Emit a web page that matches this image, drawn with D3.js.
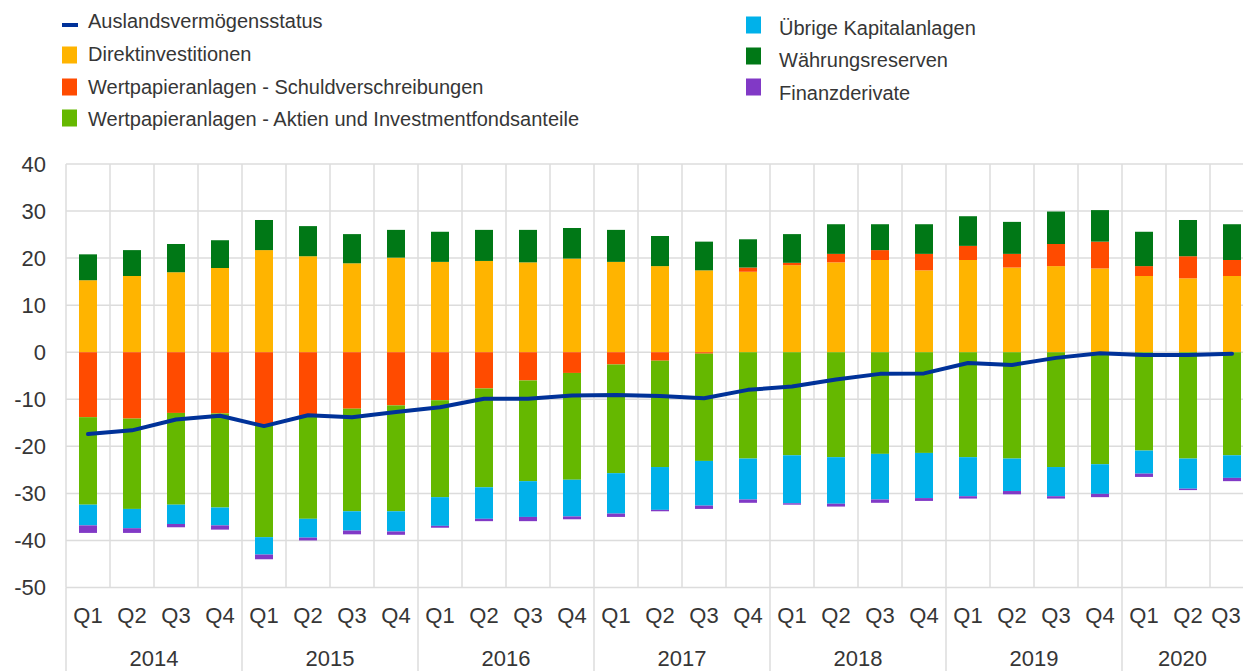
<!DOCTYPE html>
<html><head><meta charset="utf-8">
<script src="https://cdn.jsdelivr.net/npm/d3@7"></script>
<style>
html,body{margin:0;padding:0;background:#fff;overflow:hidden}
svg{display:block;font-family:"Liberation Sans",Arial,sans-serif}
</style></head>
<body>
<svg id="chart" width="1243" height="671"></svg>
<script>
const quarters = ["Q1","Q2","Q3","Q4","Q1","Q2","Q3","Q4","Q1","Q2","Q3","Q4","Q1","Q2","Q3","Q4","Q1","Q2","Q3","Q4","Q1","Q2","Q3","Q4","Q1","Q2","Q3"];
const years = ["2014","2014","2014","2014","2015","2015","2015","2015","2016","2016","2016","2016","2017","2017","2017","2017","2018","2018","2018","2018","2019","2019","2019","2019","2020","2020","2020"];
const yearLabels = ["2014","2015","2016","2017","2018","2019","2020"];
const yTicks = [40,30,20,10,0,-10,-20,-30,-40,-50];

const direktinvestitionen = [15.3,16.2,17.0,17.9, 21.7,20.4,18.9,20.1, 19.2,19.4,19.1,19.9, 19.2,18.3,17.4,17.1, 18.5,19.1,19.6,17.4, 19.6,18.0,18.3,17.8, 16.2,15.7,16.2];
const schuldverschreibungen = [-13.8,-14.1,-12.9,-13.0, -15.5,-13.4,-12.0,-11.3, -10.2,-7.7,-6.0,-4.4, -2.6,-1.8,-0.3,0.9, 0.5,1.8,2.1,3.5, 3.0,2.9,4.7,5.7, 2.1,4.7,3.4];
const aktienFonds = [-18.6,-19.2,-19.5,-20.0, -23.8,-22.0,-21.8,-22.5, -20.6,-21.0,-21.4,-22.7, -23.1,-22.6,-22.8,-22.6, -21.9,-22.3,-21.6,-21.4, -22.3,-22.6,-24.4,-23.8, -20.9,-22.6,-21.9];
const uebrigeKapitalanlagen = [-4.4,-4.1,-4.1,-3.8, -3.7,-4.0,-4.1,-4.3, -6.1,-6.7,-7.6,-7.8, -8.6,-9.1,-9.5,-8.7, -10.2,-9.9,-9.7,-9.6, -8.3,-6.9,-6.2,-6.3, -4.9,-6.4,-4.8];
const waehrungsreserven = [5.5,5.5,6.0,5.9, 6.4,6.4,6.2,5.9, 6.4,6.6,6.9,6.5, 6.8,6.4,6.1,6.0, 6.1,6.3,5.5,6.3, 6.3,6.8,6.9,6.7, 7.3,7.7,7.6];
const finanzderivate = [-1.6,-1.0,-0.7,-0.9, -1.0,-0.6,-0.8,-0.7, -0.4,-0.5,-0.9,-0.6, -0.7,-0.3,-0.7,-0.7, -0.3,-0.6,-0.7,-0.6, -0.5,-0.7,-0.5,-0.7, -0.7,-0.3,-0.7];
const auslandsvermoegensstatus = [-17.4,-16.6,-14.3,-13.5, -15.7,-13.4,-13.8,-12.7, -11.7,-9.9,-9.9,-9.2, -9.1,-9.3,-9.8,-8.0, -7.3,-5.8,-4.6,-4.5, -2.3,-2.7,-1.2,-0.2, -0.6,-0.6,-0.3];

const seriesKeys = ["di","debt","equity","other","reserves","deriv"];
const seriesNames = {
  di:"Direktinvestitionen", debt:"Wertpapieranlagen - Schuldverschreibungen",
  equity:"Wertpapieranlagen - Aktien und Investmentfondsanteile",
  other:"Übrige Kapitalanlagen", reserves:"Währungsreserven", deriv:"Finanzderivate"
};
const colors = {di:"#FFB400",debt:"#FF4B00",equity:"#65B800",other:"#00B1EA",reserves:"#007816",deriv:"#8139C6",line:"#003299"};

const cats = quarters.map((q,i)=>years[i]+"-"+q);
const rows = cats.map((c,i)=>({cat:c, di:direktinvestitionen[i], debt:schuldverschreibungen[i], equity:aktienFonds[i], other:uebrigeKapitalanlagen[i], reserves:waehrungsreserven[i], deriv:finanzderivate[i], net:auslandsvermoegensstatus[i]}));

const W = 1243;
const svg = d3.select("#chart");
const plotLeft = 66, bandW = 44.0;
const plotRight = plotLeft + bandW*cats.length;
const plotTop = 164, plotBottom = 587.5;

const x = d3.scaleBand().domain(cats).range([plotLeft,plotRight]).padding(0);
const y = d3.scaleLinear().domain([-50,40]).range([plotBottom,plotTop]);
const barW = 18;
const grid = "#dcdcdc";
const textCol = "#363636";

svg.append("g").selectAll("line").data(yTicks).join("line")
  .attr("x1",plotLeft).attr("x2",plotRight).attr("y1",d=>y(d)).attr("y2",d=>y(d))
  .attr("stroke",grid).attr("stroke-width",1.5);
svg.append("g").selectAll("line").data(cats).join("line")
  .attr("x1",d=>x(d)).attr("x2",d=>x(d)).attr("y1",plotTop).attr("y2",plotBottom)
  .attr("stroke",grid).attr("stroke-width",1.5);
const yearStarts = cats.filter((c,i)=>quarters[i]==="Q1");
svg.append("g").selectAll("line").data(yearStarts).join("line")
  .attr("x1",d=>x(d)).attr("x2",d=>x(d)).attr("y1",plotBottom).attr("y2",671)
  .attr("stroke",grid).attr("stroke-width",1.5);

svg.append("g").selectAll("text").data(yTicks).join("text")
  .attr("x",46).attr("y",d=>y(d)).attr("text-anchor","end").attr("dominant-baseline","central")
  .attr("font-size",22).attr("fill",textCol).text(d=>d);

const stack = d3.stack().keys(seriesKeys).offset(d3.stackOffsetDiverging);
const stacked = stack(rows);
svg.append("g").selectAll("g").data(stacked).join("g")
  .attr("fill",d=>colors[d.key])
  .selectAll("rect").data(d=>d).join("rect")
  .attr("x",d=>x(d.data.cat)+(bandW-barW)/2)
  .attr("width",barW)
  .attr("y",d=>y(Math.max(d[0],d[1])))
  .attr("height",d=>Math.abs(y(d[0])-y(d[1])));

const line = d3.line().x(d=>x(d.cat)+bandW/2).y(d=>y(d.net));
svg.append("path").datum(rows).attr("d",line).attr("fill","none")
  .attr("stroke",colors.line).attr("stroke-width",4).attr("stroke-linejoin","round").attr("stroke-linecap","round");

// quarter labels (last one kept inside the visible frame)
svg.append("g").selectAll("text").data(cats).join("text")
  .attr("x",d=>Math.min(x(d)+bandW/2, W-17)).attr("y",615).attr("text-anchor","middle").attr("dominant-baseline","central")
  .attr("font-size",22).attr("fill",textCol).text((d,i)=>quarters[i]);
svg.append("g").selectAll("text").data(yearLabels).join("text")
  .attr("x",yl=>{const idx=cats.filter((c,i)=>years[i]===yl); return (x(idx[0])+Math.min(x(idx[idx.length-1])+bandW, W))/2;})
  .attr("y",658).attr("text-anchor","middle").attr("dominant-baseline","central")
  .attr("font-size",22).attr("fill",textCol).text(d=>d);

const legLeft = [
  {type:"line", key:"line", name:"Auslandsvermögensstatus", y:21, my:25},
  {type:"rect", key:"di", name:seriesNames.di, y:54, my:55},
  {type:"rect", key:"debt", name:seriesNames.debt, y:87, my:87},
  {type:"rect", key:"equity", name:seriesNames.equity, y:119, my:118}
];
const legRight = [
  {type:"rect", key:"other", name:seriesNames.other, y:28, my:25},
  {type:"rect", key:"reserves", name:seriesNames.reserves, y:60, my:56},
  {type:"rect", key:"deriv", name:seriesNames.deriv, y:93, my:87}
];
function drawLegend(items, mx, tx){
  const g = svg.append("g");
  items.forEach(it=>{
    if(it.type==="line"){
      g.append("line").attr("x1",mx).attr("x2",mx+16).attr("y1",it.my).attr("y2",it.my)
        .attr("stroke",colors.line).attr("stroke-width",4);
    } else {
      g.append("rect").attr("x",mx).attr("y",it.my-8.5).attr("width",15).attr("height",17).attr("fill",colors[it.key]);
    }
    g.append("text").attr("x",tx).attr("y",it.y).attr("dominant-baseline","central")
      .attr("font-size",20).attr("fill",textCol).text(it.name);
  });
}
drawLegend(legLeft, 62, 88);
drawLegend(legRight, 746, 779);
</script>
</body></html>
